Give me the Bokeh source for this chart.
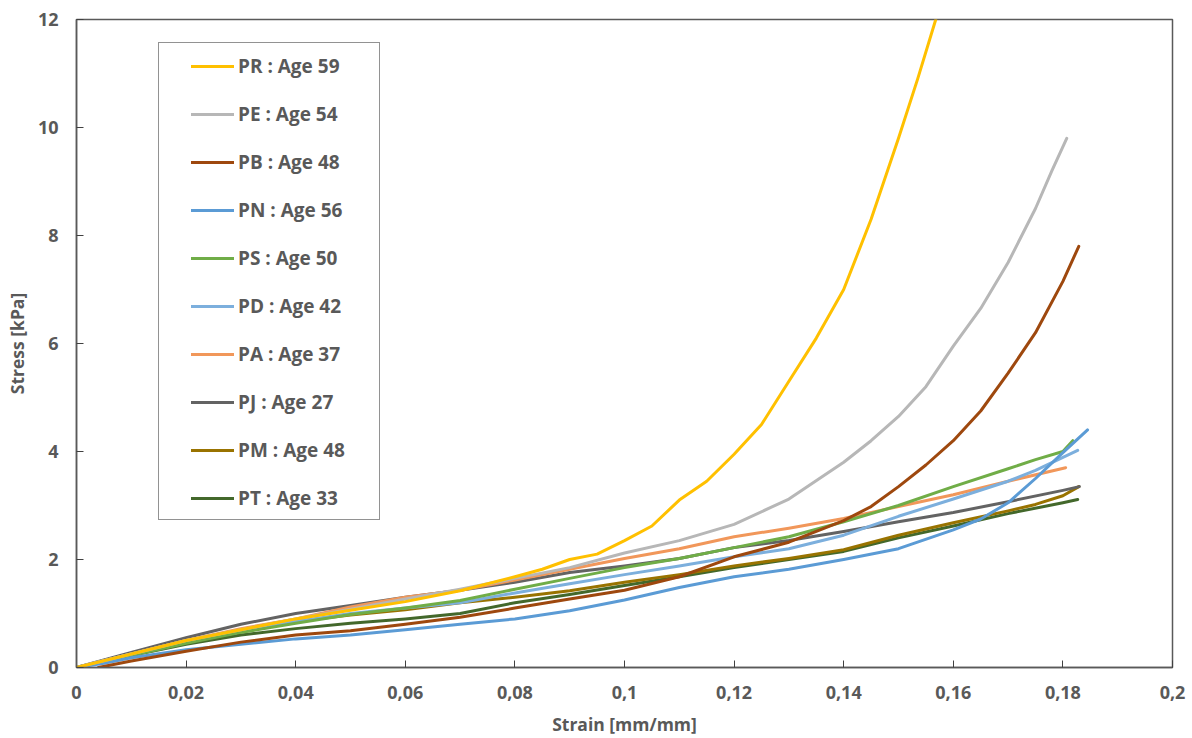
from bokeh.plotting import figure
from bokeh.models import Range1d, FixedTicker, Legend, LegendItem
from bokeh.embed import file_html
from bokeh.resources import INLINE

# ---------------- data ----------------
PR_strain = [0, 0.01, 0.02, 0.03, 0.04, 0.05, 0.06, 0.07, 0.08, 0.085, 0.09, 0.095, 0.1, 0.105, 0.11, 0.115, 0.12, 0.125, 0.13, 0.135, 0.14, 0.145, 0.15, 0.1535, 0.1568]
PR_stress = [0, 0.25, 0.5, 0.7, 0.9, 1.06, 1.22, 1.42, 1.68, 1.82, 2.0, 2.1, 2.35, 2.62, 3.1, 3.45, 3.95, 4.5, 5.3, 6.1, 7.0, 8.3, 9.8, 10.9, 12.0]

PE_strain = [0, 0.01, 0.02, 0.03, 0.04, 0.05, 0.06, 0.07, 0.08, 0.09, 0.1, 0.11, 0.12, 0.13, 0.14, 0.145, 0.15, 0.155, 0.16, 0.165, 0.17, 0.175, 0.178, 0.1807]
PE_stress = [0, 0.25, 0.5, 0.7, 0.9, 1.08, 1.27, 1.45, 1.65, 1.85, 2.12, 2.35, 2.65, 3.12, 3.8, 4.2, 4.65, 5.2, 5.95, 6.65, 7.5, 8.5, 9.2, 9.8]

PB_strain = [0.004, 0.01, 0.02, 0.03, 0.04, 0.05, 0.06, 0.07, 0.08, 0.09, 0.1, 0.11, 0.12, 0.13, 0.14, 0.145, 0.15, 0.155, 0.16, 0.165, 0.17, 0.175, 0.18, 0.1829]
PB_stress = [0, 0.12, 0.3, 0.47, 0.6, 0.68, 0.8, 0.93, 1.1, 1.27, 1.43, 1.68, 2.05, 2.32, 2.72, 2.98, 3.35, 3.75, 4.2, 4.75, 5.45, 6.2, 7.15, 7.8]

PN_strain = [0, 0.005, 0.01, 0.02, 0.03, 0.04, 0.05, 0.06, 0.07, 0.08, 0.09, 0.1, 0.11, 0.12, 0.13, 0.14, 0.15, 0.16, 0.165, 0.17, 0.175, 0.18, 0.1845]
PN_stress = [0, 0.08, 0.18, 0.33, 0.43, 0.53, 0.6, 0.7, 0.8, 0.9, 1.05, 1.25, 1.48, 1.68, 1.82, 2.0, 2.2, 2.55, 2.75, 3.05, 3.5, 3.98, 4.4]

PS_strain = [0, 0.01, 0.02, 0.03, 0.04, 0.05, 0.06, 0.07, 0.08, 0.09, 0.1, 0.11, 0.12, 0.13, 0.14, 0.15, 0.16, 0.17, 0.175, 0.18, 0.1818]
PS_stress = [0, 0.22, 0.45, 0.65, 0.82, 0.98, 1.1, 1.24, 1.45, 1.65, 1.85, 2.02, 2.22, 2.42, 2.7, 3.0, 3.35, 3.68, 3.85, 4.0, 4.2]

PD_strain = [0, 0.01, 0.02, 0.03, 0.04, 0.05, 0.06, 0.07, 0.08, 0.09, 0.1, 0.11, 0.12, 0.13, 0.14, 0.15, 0.16, 0.17, 0.175, 0.1827]
PD_stress = [0, 0.25, 0.47, 0.67, 0.85, 1.0, 1.1, 1.2, 1.38, 1.55, 1.72, 1.88, 2.05, 2.2, 2.45, 2.8, 3.12, 3.45, 3.65, 4.02]

PA_strain = [0, 0.01, 0.02, 0.03, 0.04, 0.05, 0.06, 0.07, 0.08, 0.09, 0.1, 0.11, 0.12, 0.13, 0.14, 0.15, 0.16, 0.17, 0.1805]
PA_stress = [0, 0.25, 0.5, 0.72, 0.9, 1.12, 1.3, 1.43, 1.62, 1.82, 2.02, 2.2, 2.42, 2.58, 2.76, 2.98, 3.2, 3.45, 3.7]

PJ_strain = [0, 0.01, 0.02, 0.03, 0.04, 0.05, 0.06, 0.07, 0.08, 0.09, 0.1, 0.11, 0.12, 0.13, 0.14, 0.15, 0.16, 0.17, 0.18, 0.183]
PJ_stress = [0, 0.28, 0.55, 0.8, 1.0, 1.15, 1.3, 1.43, 1.58, 1.76, 1.88, 2.02, 2.22, 2.35, 2.52, 2.7, 2.87, 3.07, 3.28, 3.35]

PM_strain = [0, 0.01, 0.02, 0.03, 0.04, 0.05, 0.06, 0.07, 0.08, 0.09, 0.1, 0.11, 0.12, 0.13, 0.14, 0.15, 0.16, 0.17, 0.175, 0.18, 0.1829]
PM_stress = [0, 0.25, 0.48, 0.68, 0.85, 0.97, 1.07, 1.2, 1.3, 1.42, 1.58, 1.72, 1.88, 2.02, 2.18, 2.45, 2.68, 2.9, 3.02, 3.18, 3.35]

PT_strain = [0, 0.01, 0.02, 0.03, 0.04, 0.05, 0.06, 0.07, 0.08, 0.09, 0.1, 0.11, 0.12, 0.13, 0.14, 0.15, 0.16, 0.17, 0.18, 0.1827]
PT_stress = [0, 0.22, 0.43, 0.6, 0.72, 0.82, 0.9, 1.0, 1.2, 1.35, 1.52, 1.68, 1.85, 2.0, 2.15, 2.4, 2.62, 2.85, 3.05, 3.11]

series_labels = ["PR : Age 59", "PE : Age 54", "PB : Age 48", "PN : Age 56", "PS : Age 50",
                 "PD : Age 42", "PA : Age 37", "PJ : Age 27", "PM : Age 48", "PT : Age 33"]
series_colors = ["#FFC000", "#B7B7B7", "#9E480E", "#5B9BD5", "#70AD47",
                 "#7CAFDD", "#F1975A", "#636363", "#997300", "#43682B"]

x_ticks = [0, 0.02, 0.04, 0.06, 0.08, 0.1, 0.12, 0.14, 0.16, 0.18, 0.2]
x_tick_labels = ["0", "0,02", "0,04", "0,06", "0,08", "0,1", "0,12", "0,14", "0,16", "0,18", "0,2"]
y_ticks = [0, 2, 4, 6, 8, 10, 12]
y_tick_labels = ["0", "2", "4", "6", "8", "10", "12"]

series = [(PR_strain, PR_stress), (PE_strain, PE_stress), (PB_strain, PB_stress),
          (PN_strain, PN_stress), (PS_strain, PS_stress), (PD_strain, PD_stress),
          (PA_strain, PA_stress), (PJ_strain, PJ_stress), (PM_strain, PM_stress),
          (PT_strain, PT_stress)]

# ---------------- figure ----------------
TXT = "#595959"
FONT = "Open Sans"

p = figure(frame_width=1096, frame_height=648,
           x_range=Range1d(0, 0.2), y_range=Range1d(0, 12),
           output_backend="svg", toolbar_location=None,
           min_border_left=76, min_border_top=19, min_border_right=20, min_border_bottom=68)
p.background_fill_color = "white"
p.border_fill_color = "white"
p.outline_line_color = "#595959"
p.outline_line_width = 1.5
p.xgrid.visible = False
p.ygrid.visible = False

# draw in reverse order so the first series is on top
renderers = {}
for (xs, ys), lab, col in reversed(list(zip(series, series_labels, series_colors))):
    r = p.line(xs, ys, line_color=col, line_width=3, line_join="round", line_cap="round")
    renderers[lab] = r

for ax, ticks, labels in ((p.xaxis[0], x_ticks, x_tick_labels), (p.yaxis[0], y_ticks, y_tick_labels)):
    ax.ticker = FixedTicker(ticks=ticks)
    ax.major_label_overrides = {t: l for t, l in zip(ticks, labels)}
    ax.minor_tick_line_color = None
    ax.major_tick_out = 0
    ax.major_tick_in = 7
    ax.major_tick_line_color = "#404040"
    ax.axis_line_color = "#595959"
    ax.axis_line_width = 1.5
    ax.major_label_text_font = FONT
    ax.major_label_text_font_style = "bold"
    ax.major_label_text_font_size = "18px"
    ax.major_label_text_color = TXT
    ax.axis_label_text_font = FONT
    ax.axis_label_text_font_style = "bold"
    ax.axis_label_text_font_size = "17.5px"
    ax.axis_label_text_color = TXT

p.xaxis.axis_label = "Strain [mm/mm]"
p.yaxis.axis_label = "Stress [kPa]"
p.xaxis.major_label_standoff = 18
p.xaxis.axis_label_standoff = 10
p.yaxis.major_label_standoff = 18
p.yaxis.axis_label_standoff = 6

# legend frame (box only)
dummy = p.line(x=[], y=[], line_alpha=0)
box = Legend(items=[LegendItem(label="", renderers=[dummy])],
             location=(82, 147), orientation="vertical",
             glyph_width=220, glyph_height=476, padding=0, margin=0, spacing=0,
             label_standoff=0, label_width=0, label_height=0,
             label_text_font_size="1px",
             border_line_color="#262626", border_line_width=1.2,
             background_fill_color="white", background_fill_alpha=1.0)
p.add_layout(box)

legend = Legend(items=[LegendItem(label=lab, renderers=[renderers[lab]]) for lab in series_labels],
                location=(104, 145), orientation="vertical",
                glyph_width=43, glyph_height=26, label_height=26, spacing=22,
                padding=11, margin=0, label_standoff=4,
                label_text_font=FONT, label_text_font_style="bold",
                label_text_font_size="19px", label_text_color=TXT,
                border_line_alpha=0, background_fill_alpha=0)
p.add_layout(legend)

open("out.html", "w").write(file_html(p, INLINE))
